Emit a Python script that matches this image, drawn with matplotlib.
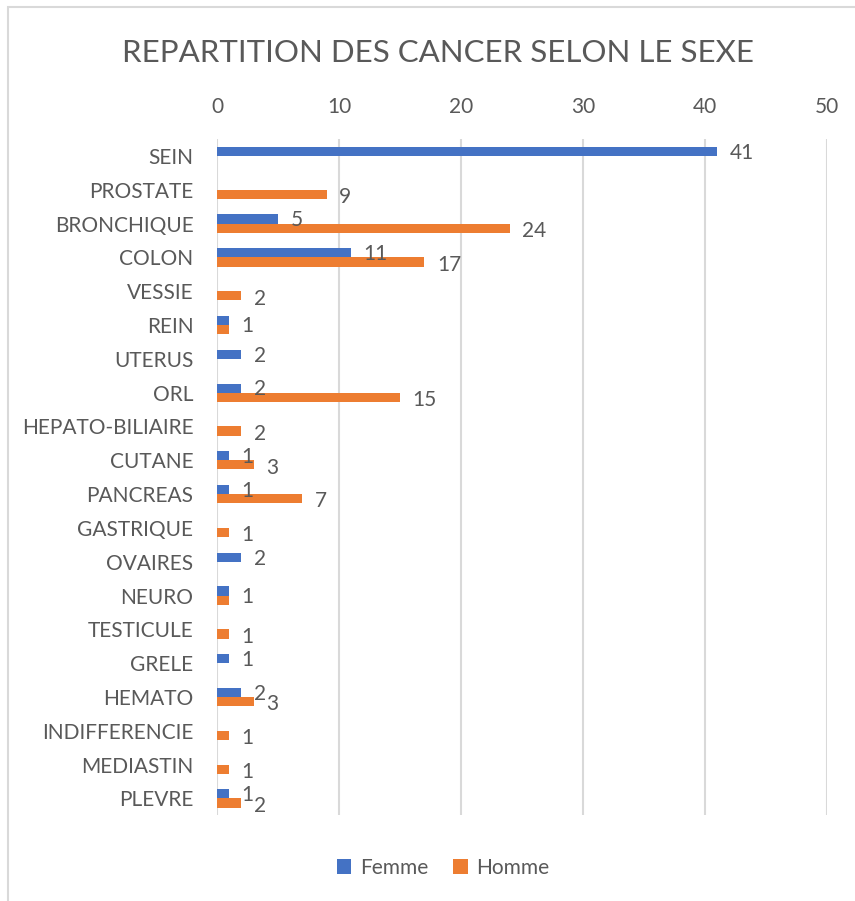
import matplotlib
matplotlib.use('Agg')
import matplotlib.pyplot as plt
import matplotlib.patches as patches
import numpy as np

plt.rcParams['font.family'] = ['Lato', 'DejaVu Sans']

categories = ['SEIN', 'PROSTATE', 'BRONCHIQUE', 'COLON', 'VESSIE', 'REIN', 'UTERUS',
              'ORL', 'HEPATO-BILIAIRE', 'CUTANE', 'PANCREAS', 'GASTRIQUE', 'OVAIRES',
              'NEURO', 'TESTICULE', 'GRELE', 'HEMATO', 'INDIFFERENCIE', 'MEDIASTIN', 'PLEVRE']
femme = [41, 0, 5, 11, 0, 1, 2, 2, 0, 1, 1, 0, 2, 1, 0, 1, 2, 0, 0, 1]
homme = [0, 9, 24, 17, 2, 1, 0, 15, 2, 3, 7, 1, 0, 1, 1, 0, 3, 1, 1, 2]
x_ticks = [0, 10, 20, 30, 40, 50]

BLUE = '#4472C4'
ORANGE = '#ED7D31'
TXT = '#595959'
GRID = '#D9D9D9'
FS = 15

fig = plt.figure(figsize=(8.55, 9.01), dpi=100)
fig.patch.set_facecolor('white')

# chart frame (only top/left visible in the crop)
fig.add_artist(patches.Rectangle((8 / 855, -0.05), 1.2, 1 - 7 / 901 + 0.05,
                                 transform=fig.transFigure, fill=False,
                                 edgecolor='#D9D9D9', linewidth=1.5))

ax = fig.add_axes([217 / 855, 1 - 815.4 / 901, 610 / 855, (815.4 - 139) / 901])

y = np.arange(len(categories))
h = 0.27
ax.barh(y - h / 2, femme, height=h, color=BLUE, label='Femme', zorder=3)
ax.barh(y + h / 2, homme, height=h, color=ORANGE, label='Homme', zorder=3)

# data labels
for i, (f, m) in enumerate(zip(femme, homme)):
    if f > 0 and f == m:
        ax.annotate(str(f), (f, i), xytext=(9, -1), textcoords='offset points',
                    va='center', ha='left', fontsize=FS, color=TXT)
        continue
    if f > 0:
        ax.annotate(str(f), (f, i - h / 2), xytext=(9, -1), textcoords='offset points',
                    va='center', ha='left', fontsize=FS, color=TXT)
    if m > 0:
        ax.annotate(str(m), (m, i + h / 2), xytext=(9, -2), textcoords='offset points',
                    va='center', ha='left', fontsize=FS, color=TXT)

ax.set_xlim(0, 50)
ax.set_ylim(len(categories) - 0.5, -0.5)
ax.set_xticks(x_ticks)
ax.set_yticks(y)
ax.set_yticklabels(categories)
ax.xaxis.tick_top()
ax.tick_params(axis='x', length=0, pad=16, labelsize=FS, labelcolor=TXT)
ax.tick_params(axis='y', length=0, pad=17, labelsize=FS, labelcolor=TXT)
for s in ax.spines.values():
    s.set_visible(False)
ax.grid(axis='x', color=GRID, linewidth=1.5, zorder=0)
ax.set_axisbelow(True)

fig.text(438 / 855, 1 - 53 / 901, 'REPARTITION DES CANCER SELON LE SEXE',
         ha='center', va='center', fontsize=22.5, color=TXT)

fig.legend(loc='center', bbox_to_anchor=(443 / 855, 1 - 868 / 901), ncol=2,
           frameon=False, fontsize=FS, labelcolor=TXT, handlelength=0.7,
           handleheight=0.7, handletextpad=0.4, columnspacing=1.2)

fig.savefig('out.png', dpi=100, facecolor='white')
